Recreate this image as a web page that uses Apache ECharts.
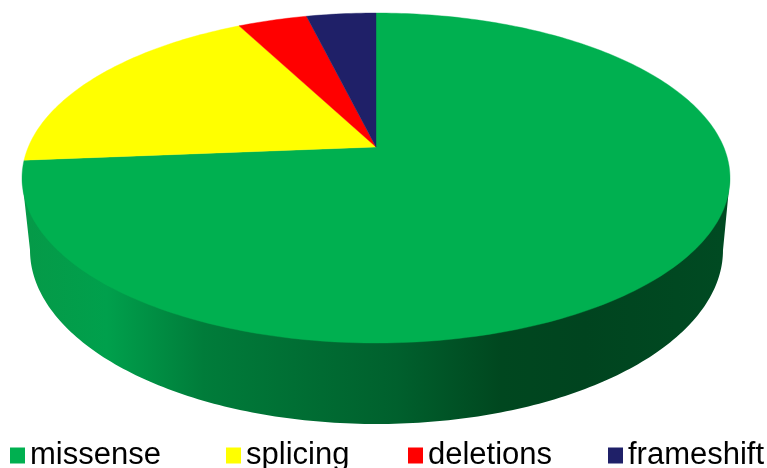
<!DOCTYPE html>
<html><head><meta charset="utf-8">
<style>html,body{margin:0;padding:0;background:#fff;overflow:hidden}#c{width:767px;height:468px}</style>
<script src="https://cdn.jsdelivr.net/npm/echarts@6/dist/echarts.min.js"></script>
</head><body><div id="c"></div>
<script>
const categories = ['missense', 'splicing', 'deletions', 'frameshift'];
const shares = [73.7, 18.7, 3.8, 3.8];
const colors = ['#00B050', '#FFFF00', '#FF0000', '#1F2068'];
const legendLeft = [10, 226, 408, 608];

// layout of the tilted disc
const top_ = {cx: 376, cy: 178, a: 354, b: 165, apexShift: 0.188};
const low = {cx: 376.5, cy: 250, a: 346.5, b: 174};
const wallStops = [[0, '#059A48'], [0.11, '#00A04C'], [0.25, '#007C3A'], [0.53, '#00602D'], [0.68, '#00471F'], [0.8, '#00441F'], [1, '#004A22']];

const total = shares.reduce((s, v) => s + v, 0);
const starts = shares.map((_, i) => shares.slice(0, i).reduce((s, v) => s + v, 0));

// Disc point at angle (clockwise from 12 o'clock), with the perspective shift of the hub
function rimPoint(fraction, r) {
  const th = fraction * 2 * Math.PI;
  const X = r * Math.sin(th), Y = r * Math.cos(th), t = top_.apexShift;
  const w = 1 + t * Y;
  return [top_.cx + top_.a * X * Math.sqrt(1 - t * t) / w,
          top_.cy - top_.b * (Y + t) / w];
}

const sliceSeries = categories.map((name, i) => ({
  type: 'custom', name, coordinateSystem: 'none', z: 3,
  itemStyle: {color: colors[i]},
  data: [[starts[i], shares[i]]],
  silent: true, animation: false,
  renderItem(params, api) {
    const s = api.value(0) / total, d = api.value(1) / total;
    const n = Math.max(8, Math.ceil(d * 360));
    const pts = [rimPoint(0, 0)];
    for (let k = 0; k <= n; k++) pts.push(rimPoint(s + d * k / n, 1));
    return {type: 'polygon', shape: {points: pts},
      style: {fill: colors[i], stroke: colors[i], lineWidth: 0.4}};
  }
}));

const wallSeries = {
  type: 'custom', name: 'wall', coordinateSystem: 'none', z: 2, silent: true, animation: false,
  data: [[0]],
  renderItem() {
    const pts = [[top_.cx - top_.a, top_.cy]];
    for (let k = 0; k <= 180; k++) {
      const th = Math.PI * k / 180;
      pts.push([low.cx - low.a * Math.cos(th), low.cy + low.b * Math.sin(th)]);
    }
    pts.push([top_.cx + top_.a, top_.cy]);
    return {type: 'polygon', shape: {points: pts}, style: {fill: {
      type: 'linear', global: true, x: low.cx - low.a, y: 0, x2: low.cx + low.a, y2: 0,
      colorStops: wallStops.map(([offset, color]) => ({offset, color}))
    }}};
  }
};

const chart = echarts.init(document.getElementById('c'), null, {renderer: 'canvas'});
chart.setOption({
  animation: false,
  backgroundColor: '#fff',
  legend: categories.map((name, i) => ({
    data: [name], left: legendLeft[i], top: 440, icon: 'rect',
    itemWidth: 15, itemHeight: 16, itemGap: 7, padding: 0, selectedMode: false,
    textStyle: {fontFamily: 'Liberation Sans', fontSize: 31, color: '#000'}
  })),
  series: [wallSeries, ...sliceSeries]
});
</script></body></html>
